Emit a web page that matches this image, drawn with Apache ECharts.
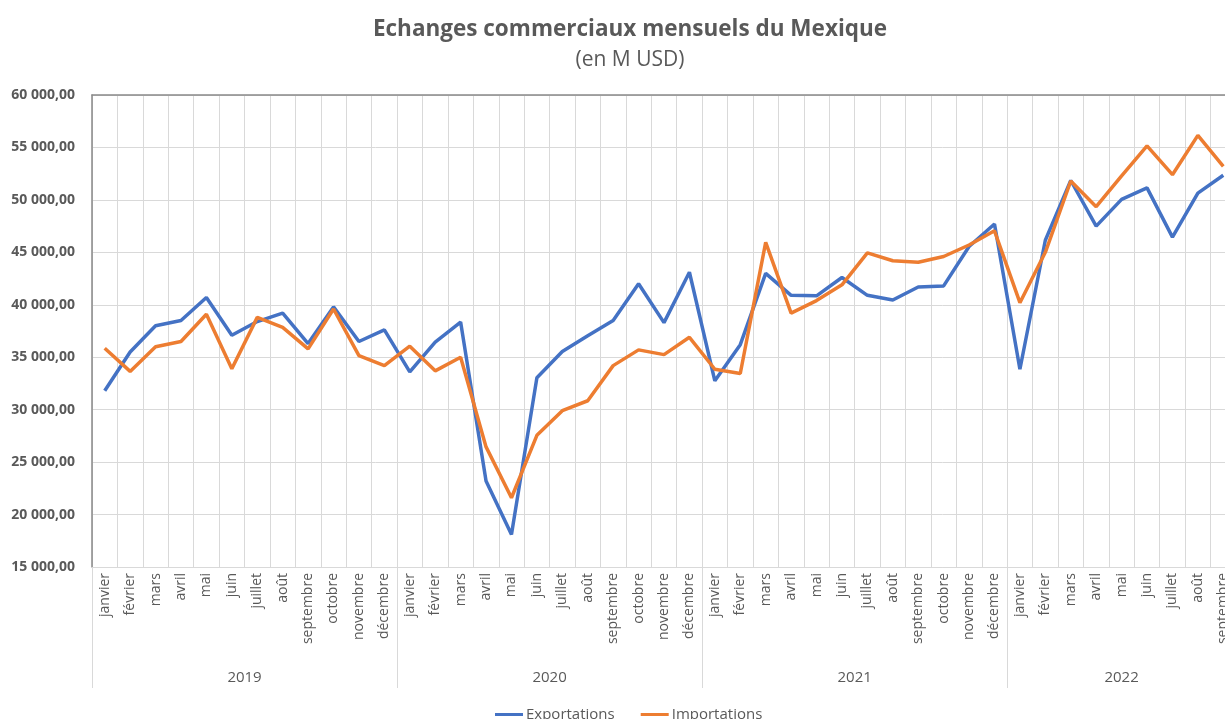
<!DOCTYPE html>
<html>
<head>
<meta charset="utf-8">
<script src="https://cdn.jsdelivr.net/npm/echarts@6/dist/echarts.min.js"></script>
<style>
html,body{margin:0;padding:0;background:#fff;}
#chart{width:1225px;height:719px;}
</style>
</head>
<body>
<div id="chart"></div>
<script>
const monthNames = ['janvier','février','mars','avril','mai','juin','juillet','août','septembre','octobre','novembre','décembre'];
const years = ['2019','2020','2021','2022'];
const monthsPerYear = [12, 12, 12, 9];

const exportations = [
  31800,35500,38000,38500,40700,37100,38400,39200,36300,39800,36500,37600,
  33600,36450,38350,23200,18100,33050,35550,37050,38500,42000,38300,43100,
  32750,36200,43000,40900,40850,42600,40900,40450,41700,41800,45550,47700,
  33850,46150,51850,47500,50050,51150,46450,50650,52350
];
const importations = [
  35850,33650,36000,36500,39100,33900,38800,37850,35800,39600,35150,34200,
  36050,33700,35000,26450,21600,27550,29900,30850,34200,35700,35250,36900,
  33850,33450,45950,39200,40400,41900,44950,44200,44050,44600,45700,47050,
  40200,45000,51800,49350,52300,55150,52400,56150,53200
];

// build category lists
const monthCats = [];
const yearCats = [];
const yearStart = {};
const yearLabelIdx = {};
years.forEach((y, k) => {
  yearStart[monthCats.length] = true;
  const n = monthsPerYear[k];
  const start = monthCats.length;
  yearLabelIdx[start + Math.floor(n / 2)] = (n % 2 === 0) ? 'e' : 'o';
  for (let m = 0; m < n; m++) { monthCats.push(monthNames[m]); yearCats.push(y); }
});

function fmt(v) {
  const s = Math.round(v).toString().replace(/\B(?=(\d{3})+(?!\d))/g, ' ');
  return s + ',00';
}

const FONT = '"Open Sans", sans-serif';
const TXT = '#595959';
const GRID_C = '#d9d9d9';

const chart = echarts.init(document.getElementById('chart'), null, {renderer: 'canvas'});
chart.setOption({
  animation: false,
  backgroundColor: '#ffffff',
  textStyle: {fontFamily: FONT},
  title: {
    text: 'Echanges commerciaux mensuels du Mexique',
    subtext: '(en M USD)',
    left: 625, top: 13, textAlign: 'center',
    itemGap: 9,
    textStyle: {fontFamily: FONT, fontSize: 22.5, fontWeight: 'bold', color: TXT},
    subtextStyle: {fontFamily: FONT, fontSize: 21, color: TXT}
  },
  legend: {
    left: 490, top: 702,
    icon: 'rect', itemWidth: 28, itemHeight: 3, itemGap: 26,
    textStyle: {fontFamily: FONT, fontSize: 15, color: TXT, padding: [0,0,0,-2]},
    data: ['Exportations', 'Importations']
  },
  grid: {left: 92, top: 95, width: 1144, height: 472, containLabel: false, outerBoundsMode: 'none'},
  xAxis: [
    {
      type: 'category', data: monthCats, position: 'bottom', boundaryGap: true,
      axisLine: {show: true, lineStyle: {color: GRID_C, width: 1}},
      axisTick: {show: false},
      splitLine: {show: true, lineStyle: {color: GRID_C, width: 1}},
      axisLabel: {rotate: 90, margin: 6, fontSize: 14, color: TXT, fontFamily: FONT, interval: 0}
    },
    {
      type: 'category', data: yearCats, position: 'bottom', boundaryGap: true,
      axisLine: {show: false},
      axisTick: {show: true, length: 121, interval: (i) => !!yearStart[i], lineStyle: {color: GRID_C, width: 1}},
      splitLine: {show: false},
      axisLabel: {
        margin: 103, fontSize: 15, color: TXT, fontFamily: FONT,
        interval: (i) => yearLabelIdx[i] !== undefined,
        formatter: (v, i) => (yearLabelIdx[i] === 'e' ? '{e|' + v + '}' : '{o|' + v + '}'),
        rich: {
          e: {fontSize: 15, color: TXT, fontFamily: FONT, padding: [0, 25.4, 0, 0]},
          o: {fontSize: 15, color: TXT, fontFamily: FONT}
        }
      }
    },
    {
      type: 'category', data: monthCats, position: 'top',
      axisLine: {show: true, lineStyle: {color: '#898989', width: 1.5}},
      axisTick: {show: false}, axisLabel: {show: false}, splitLine: {show: false}
    }
  ],
  yAxis: {
    type: 'value', min: 15000, max: 60000, interval: 5000,
    axisLine: {show: true, lineStyle: {color: '#898989', width: 1.5}},
    axisTick: {show: false},
    splitLine: {show: true, lineStyle: {color: GRID_C, width: 1}},
    axisLabel: {margin: 17, fontSize: 14, fontWeight: 'bold', color: TXT, fontFamily: FONT, formatter: fmt}
  },
  series: [
    {name: 'Exportations', type: 'line', data: exportations, xAxisIndex: 0, showSymbol: false, symbol: 'none',
     lineStyle: {color: '#4472C4', width: 3.5}, itemStyle: {color: '#4472C4'}, z: 3},
    {name: 'Importations', type: 'line', data: importations, xAxisIndex: 0, showSymbol: false, symbol: 'none',
     lineStyle: {color: '#ED7D31', width: 3.5}, itemStyle: {color: '#ED7D31'}, z: 4}
  ]
});
</script>
</body>
</html>
